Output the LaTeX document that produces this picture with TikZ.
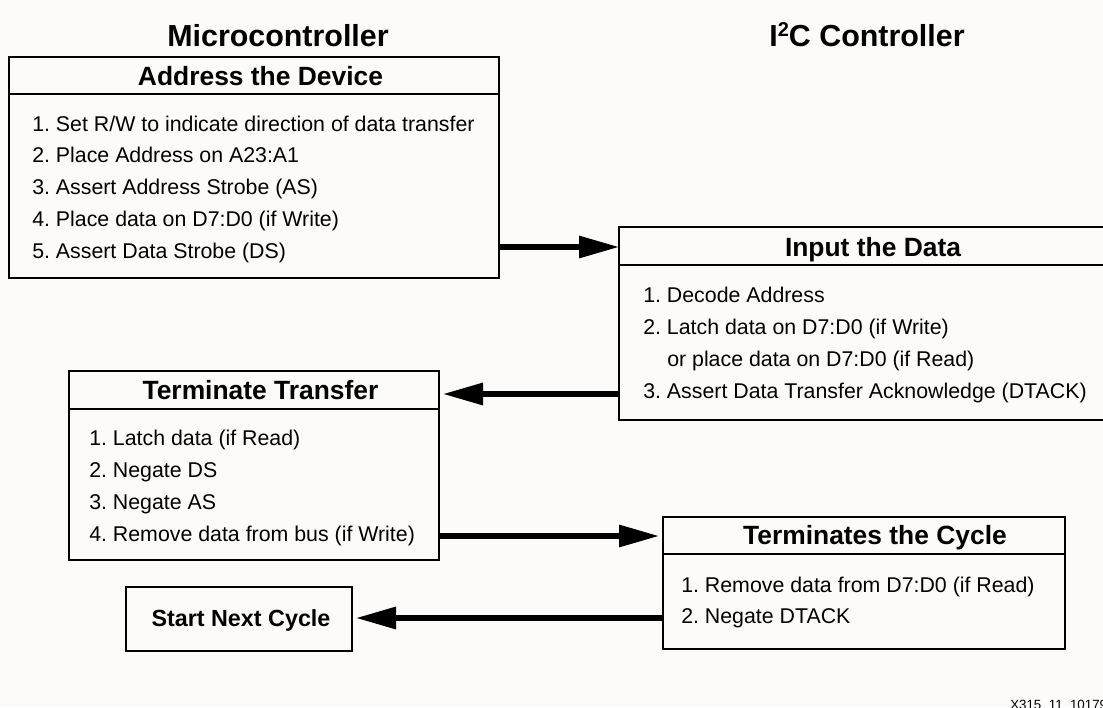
\documentclass[tikz,border=0pt]{standalone}
\usepackage{fontspec}
\setmainfont{Liberation Sans}
\usetikzlibrary{arrows.meta}
\definecolor{bg}{RGB}{252,251,249}
\frenchspacing
\tikzset{
  boxframe/.style={draw=black, line width=1.9pt, inner sep=0pt, outer sep=0pt},
  divider/.style={draw=black, line width=1.9pt},
  ttl/.style={font=\fontsize{19.8pt}{22pt}\selectfont\bfseries, anchor=base, inner sep=0pt},
  hdr/.style={font=\fontsize{22.8pt}{25pt}\selectfont\bfseries, anchor=base, inner sep=0pt},
  itm/.style={font=\fontsize{16pt}{18pt}\selectfont, anchor=base west, inner sep=0pt},
  foot/.style={font=\fontsize{10pt}{12pt}\selectfont, anchor=base west, inner sep=0pt},
  flow/.style={draw=black, line width=3.9pt, -{Triangle[length=30pt,width=16pt]}},
}
\begin{document}
\begin{tikzpicture}[x=0.75pt,y=-0.75pt]
\fill[bg] (0,0) rectangle (1103,707);
\useasboundingbox (0,0) rectangle (1103,707);
\clip (0,0) rectangle (1103,707);

% column headers
\node[hdr] (hmc) at (278,46.7) {Microcontroller};
\node[hdr] (hi2c) at (867,46.7) {I\raisebox{0.62ex}{\fontsize{15pt}{15pt}\selectfont 2}C Controller};

% box 1
\node[boxframe, minimum width=367.5pt, minimum height=165.75pt] (b1) at (254,167.5) {};
\draw[divider] (b1.west |- 0,94) -- (b1.east |- 0,94);
\node[ttl] (t1) at (260.5,85) {Address the Device};
\node[itm] (b1l1) at (32,131) {1. Set R/W to indicate direction of data transfer};
\node[itm] (b1l2) at (32,162.5) {2. Place Address on A23:A1};
\node[itm] (b1l3) at (32,194) {3. Assert Address Strobe (AS)};
\node[itm] (b1l4) at (32,226) {4. Place data on D7:D0 (if Write)};
\node[itm] (b1l5) at (32,258) {5. Assert Data Strobe (DS)};

% box 2
\node[boxframe, minimum width=368.25pt, minimum height=144.75pt] (b2) at (864.5,323.5) {};
\draw[divider] (b2.west |- 0,265) -- (b2.east |- 0,265);
\node[ttl] (t2) at (873,256) {Input the Data};
\node[itm] (b2l1) at (643,302) {1. Decode Address};
\node[itm] (b2l2) at (643,334) {2. Latch data on D7:D0 (if Write)};
\node[itm] (b2l3) at (667,366) {or place data on D7:D0 (if Read)};
\node[itm] (b2l4) at (643,398) {3. Assert Data Transfer Acknowledge (DTACK)};

% box 3
\node[boxframe, minimum width=277.5pt, minimum height=141.75pt] (b3) at (254,465.5) {};
\draw[divider] (b3.west |- 0,409) -- (b3.east |- 0,409);
\node[ttl] (t3) at (260.5,399) {Terminate Transfer};
\node[itm] (b3l1) at (89,445) {1. Latch data (if Read)};
\node[itm] (b3l2) at (89,477) {2. Negate DS};
\node[itm] (b3l3) at (89,509) {3. Negate AS};
\node[itm] (b3l4) at (89,541) {4. Remove data from bus (if Write)};

% box 4
\node[boxframe, minimum width=301.5pt, minimum height=99pt] (b4) at (864,583) {};
\draw[divider] (b4.west |- 0,554) -- (b4.east |- 0,554);
\node[ttl] (t4) at (875,544.3) {Terminates the Cycle};
\node[itm] (b4l1) at (681,592) {1. Remove data from D7:D0 (if Read)};
\node[itm] (b4l2) at (681,623) {2. Negate DTACK};

% box 5
\node[boxframe, minimum width=169.5pt, minimum height=48pt] (b5) at (239,619) {};
\node[ttl, font=\fontsize{17.5pt}{20pt}\selectfont\bfseries] (t5) at (241,626.2) {Start Next Cycle};

% connectors
\draw[flow] (b1.east |- 0,247) -- (b2.west |- 0,247);
\draw[flow, shorten >=3pt] (b2.west |- 0,394) -- (b3.east |- 0,394);
\draw[flow, shorten >=3pt] (b3.east |- 0,536) -- (b4.west |- 0,536);
\draw[flow, shorten >=3pt] (b4.west |- 0,618) -- (b5.east |- 0,618);

% figure code
\node[foot] (fig) at (1010,709) {X315\_11\_10179};
\end{tikzpicture}
\end{document}
